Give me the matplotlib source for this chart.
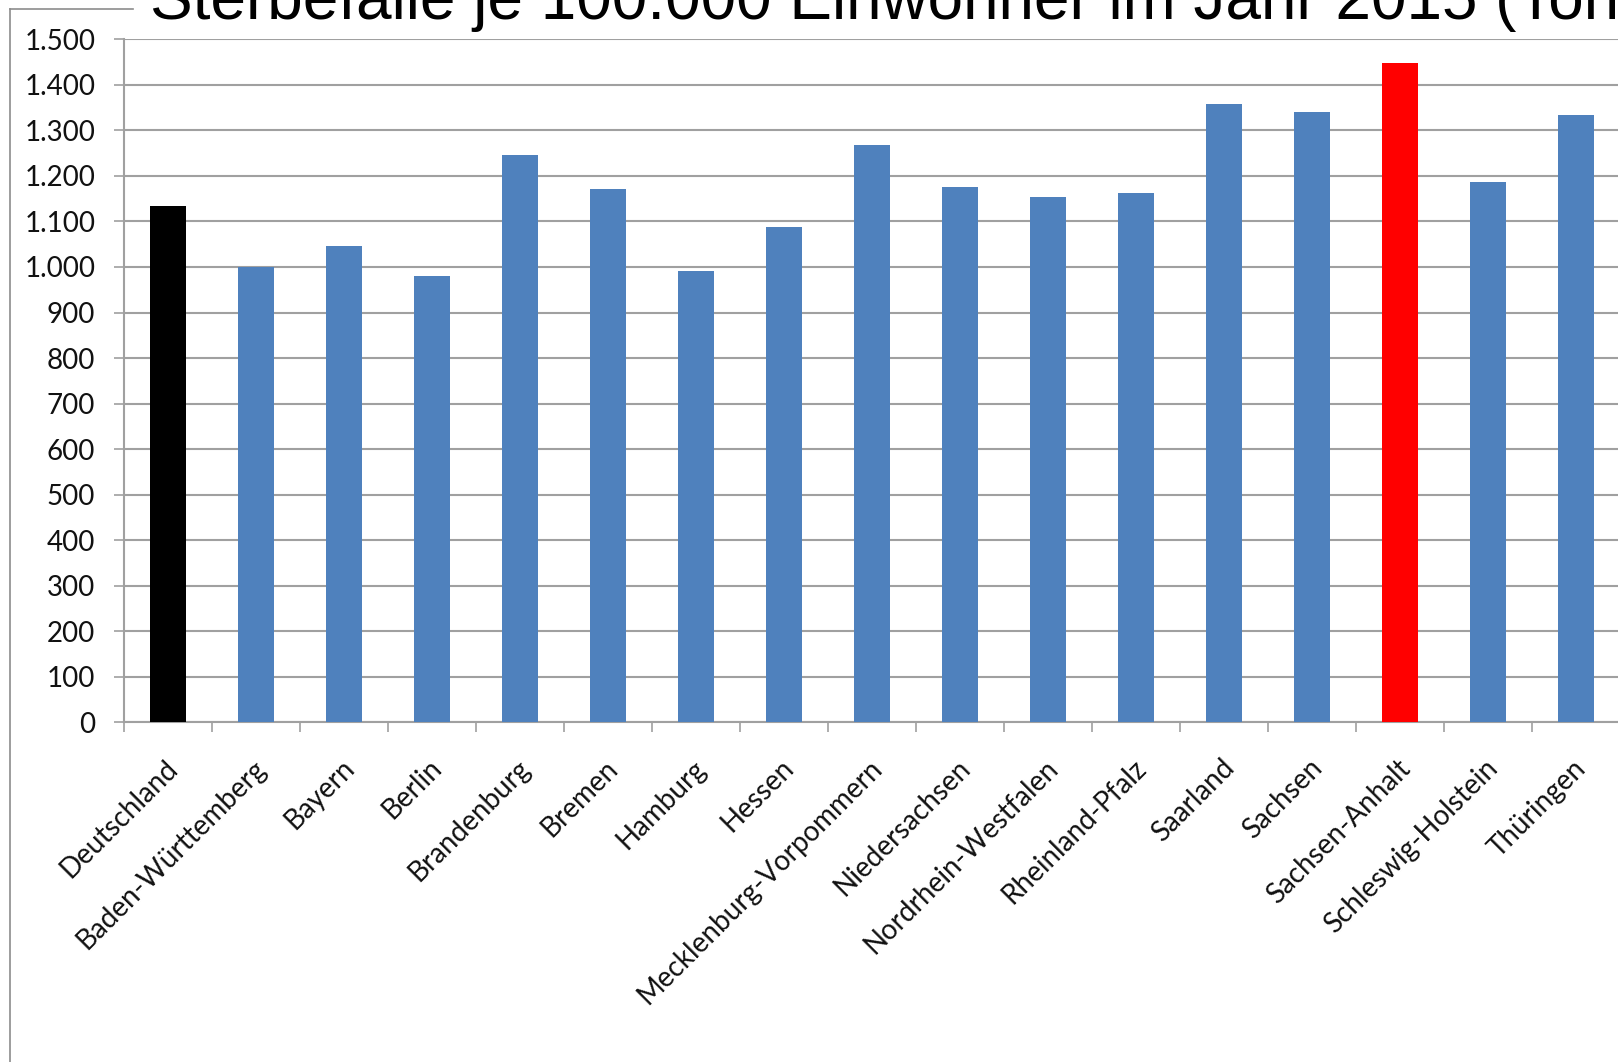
import matplotlib
matplotlib.use('Agg')
import matplotlib.pyplot as plt
import matplotlib.transforms as mtransforms
from matplotlib.lines import Line2D
from matplotlib.ticker import FuncFormatter, MultipleLocator
import numpy as np

# Daten
laender = ['Deutschland', 'Baden-Württemberg', 'Bayern', 'Berlin', 'Brandenburg',
           'Bremen', 'Hamburg', 'Hessen', 'Mecklenburg-Vorpommern', 'Niedersachsen',
           'Nordrhein-Westfalen', 'Rheinland-Pfalz', 'Saarland', 'Sachsen',
           'Sachsen-Anhalt', 'Schleswig-Holstein', 'Thüringen']
sterbefaelle = [1134, 1001, 1046, 980, 1246, 1172, 992, 1088, 1267, 1176,
                1154, 1163, 1357, 1341, 1447, 1187, 1333]
farben = ['#000000'] + ['#4F81BD'] * 13 + ['#FF0000'] + ['#4F81BD'] * 2

titel = 'Sterbefälle je 100.000 Einwohner im Jahr 2015 (Ton'
grau = '#A0A0A0'

fig = plt.figure(figsize=(16.18, 10.62), dpi=100)
ax = fig.add_axes([124 / 1618, 339.7 / 1062, 1496 / 1618, 683 / 1062])

x = np.arange(len(laender))
ax.bar(x, sterbefaelle, width=0.41, color=farben, zorder=3)

ax.set_xlim(-0.5, len(laender) - 0.5)
ax.set_ylim(0, 1500)

# Gitternetz
ax.yaxis.set_major_locator(MultipleLocator(100))
ax.yaxis.grid(True, color=grau, linewidth=1.5, zorder=0)
ax.yaxis.set_major_formatter(FuncFormatter(lambda v, p: f'{int(v):,}'.replace(',', '.')))

for s in ['top', 'right']:
    ax.spines[s].set_visible(False)
for s in ['left', 'bottom']:
    ax.spines[s].set_color(grau)
    ax.spines[s].set_linewidth(1.5)

ax.tick_params(axis='y', length=7.2, width=1.2, color=grau, pad=13.5,
               labelsize=20, labelcolor='#111111')
for lab in ax.get_yticklabels():
    lab.set_fontfamily('Lato')

# Kategorien: Beschriftung in der Mitte, Striche an den Grenzen
ax.set_xticks(x)
ax.set_xticklabels(laender, rotation=45, ha='right', va='center',
                   rotation_mode='anchor', fontsize=20, fontfamily='Lato',
                   color='#111111')
ax.tick_params(axis='x', which='major', length=0, pad=30)
ax.set_xticks(np.arange(-0.5, len(laender)), minor=True)
ax.tick_params(axis='x', which='minor', length=7.2, width=1.2, color=grau)

offset = mtransforms.ScaledTranslation(6 / 100, 0, fig.dpi_scale_trans)
for lab in ax.get_xticklabels():
    lab.set_transform(lab.get_transform() + offset)

# Rahmen des Diagrammbereichs
fig.add_artist(Line2D([9.5 / 1618, 9.5 / 1618], [0, 1 - 9 / 1062],
                      transform=fig.transFigure, color='#8C8C8C', linewidth=1.2))
fig.add_artist(Line2D([9.5 / 1618, 133 / 1618], [1 - 9 / 1062, 1 - 9 / 1062],
                      transform=fig.transFigure, color='#8C8C8C', linewidth=1.2))

fig.text(150 / 1618, 1 - 19 / 1062, titel, fontsize=46,
         fontfamily='Liberation Sans', va='baseline', ha='left')

plt.savefig('out.png', dpi=100)
